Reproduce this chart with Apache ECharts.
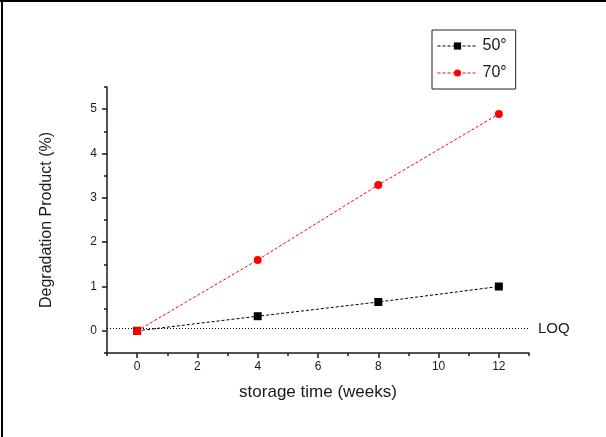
<!DOCTYPE html>
<html>
<head>
<meta charset="utf-8">
<script src="https://cdn.jsdelivr.net/npm/echarts@6/dist/echarts.min.js"></script>
<style>
  html, body { margin: 0; padding: 0; background: #fff; }
  #main { width: 606px; height: 437px; }
</style>
</head>
<body>
<div id="main"></div>
<script>
// storage time in weeks, degradation product in %
var weeks = [0, 4, 8, 12];
var deg50 = [0, 0.33, 0.65, 1.0];
var deg70 = [0, 1.60, 3.29, 4.89];
var loq = 0.05;

var xMajor = [0, 2, 4, 6, 8, 10, 12];
var xMinor = [-1, 1, 3, 5, 7, 9, 11, 13];
var yMajor = [0, 1, 2, 3, 4, 5];
var yMinor = [-0.5, 0.5, 1.5, 2.5, 3.5, 4.5, 5.5];

var font = 'Liberation Sans, Arial, sans-serif';
var ink = '#1a1a1a';

function pairs(ys) {
    return weeks.map(function (w, i) { return [w, ys[i]]; });
}

var myecharts = echarts.init(document.getElementById('main'));
var option = {
    animation: false,
    textStyle: { fontFamily: font },
    grid: { left: 107, right: 77, top: 87, bottom: 84 },
    legend: {
        orient: 'vertical',
        left: 432,
        top: 30,
        padding: [8, 9, 8, 5],
        itemGap: 11,
        itemWidth: 40,
        itemHeight: 9,
        borderColor: '#222',
        borderWidth: 1,
        lineStyle: { width: 1 },
        textStyle: { fontSize: 16, color: ink, fontFamily: font },
        data: ['50°', '70°']
    },
    xAxis: [
        {
            type: 'value', min: -1, max: 13,
            name: 'storage time (weeks)', nameLocation: 'middle', nameGap: 31,
            nameTextStyle: { fontSize: 17, color: ink },
            axisLine: { onZero: false, lineStyle: { color: ink, width: 1.5 } },
            axisTick: { customValues: xMajor, length: 5, lineStyle: { color: ink, width: 1.5 } },
            axisLabel: { customValues: xMajor, fontSize: 12, color: ink, margin: 8 },
            splitLine: { show: false }
        },
        {
            type: 'value', min: -1, max: 13, position: 'bottom',
            axisLine: { show: false, onZero: false },
            axisTick: { customValues: xMinor, length: 3, lineStyle: { color: ink, width: 1.5 } },
            axisLabel: { show: false },
            splitLine: { show: false }
        }
    ],
    yAxis: [
        {
            type: 'value', min: -0.5, max: 5.5,
            name: 'Degradation Product (%)', nameLocation: 'middle', nameGap: 52,
            nameTextStyle: { fontSize: 16, color: ink },
            axisLine: { onZero: false, lineStyle: { color: ink, width: 1.5 } },
            axisTick: { customValues: yMajor, length: 5, lineStyle: { color: ink, width: 1.5 } },
            axisLabel: { customValues: yMajor, fontSize: 12, color: ink, margin: 10 },
            splitLine: { show: false }
        },
        {
            type: 'value', min: -0.5, max: 5.5, position: 'left',
            axisLine: { show: false, onZero: false },
            axisTick: { customValues: yMinor, length: 3, lineStyle: { color: ink, width: 1.5 } },
            axisLabel: { show: false },
            splitLine: { show: false }
        }
    ],
    graphic: [
        { type: 'line', shape: { x1: 0, y1: 1, x2: 606, y2: 1 }, style: { stroke: '#000', lineWidth: 2 } },
        { type: 'line', shape: { x1: 2, y1: 0, x2: 2, y2: 437 }, style: { stroke: '#000', lineWidth: 2 } }
    ],
    series: [
        {
            name: '50°',
            type: 'line',
            data: pairs(deg50),
            symbol: 'rect',
            symbolSize: 8,
            itemStyle: { color: '#000' },
            lineStyle: { color: '#000', width: 1, type: [3, 2] },
            z: 3,
            markLine: {
                silent: true,
                symbol: ['none', 'none'],
                lineStyle: { color: '#000', width: 1, type: [1, 2] },
                label: { position: 'end', distance: 9, formatter: 'LOQ', fontSize: 15, color: ink, fontFamily: font },
                data: [{ yAxis: loq }]
            }
        },
        {
            name: '70°',
            type: 'line',
            data: pairs(deg70).map(function (p, i) {
                return i === 0 ? { value: p, symbol: 'rect' } : p;
            }),
            symbol: 'circle',
            symbolSize: 8,
            itemStyle: { color: '#ff0000' },
            lineStyle: { color: '#ff0000', width: 1, type: [3, 2] },
            z: 4
        }
    ]
};
myecharts.setOption(option);
</script>
</body>
</html>
